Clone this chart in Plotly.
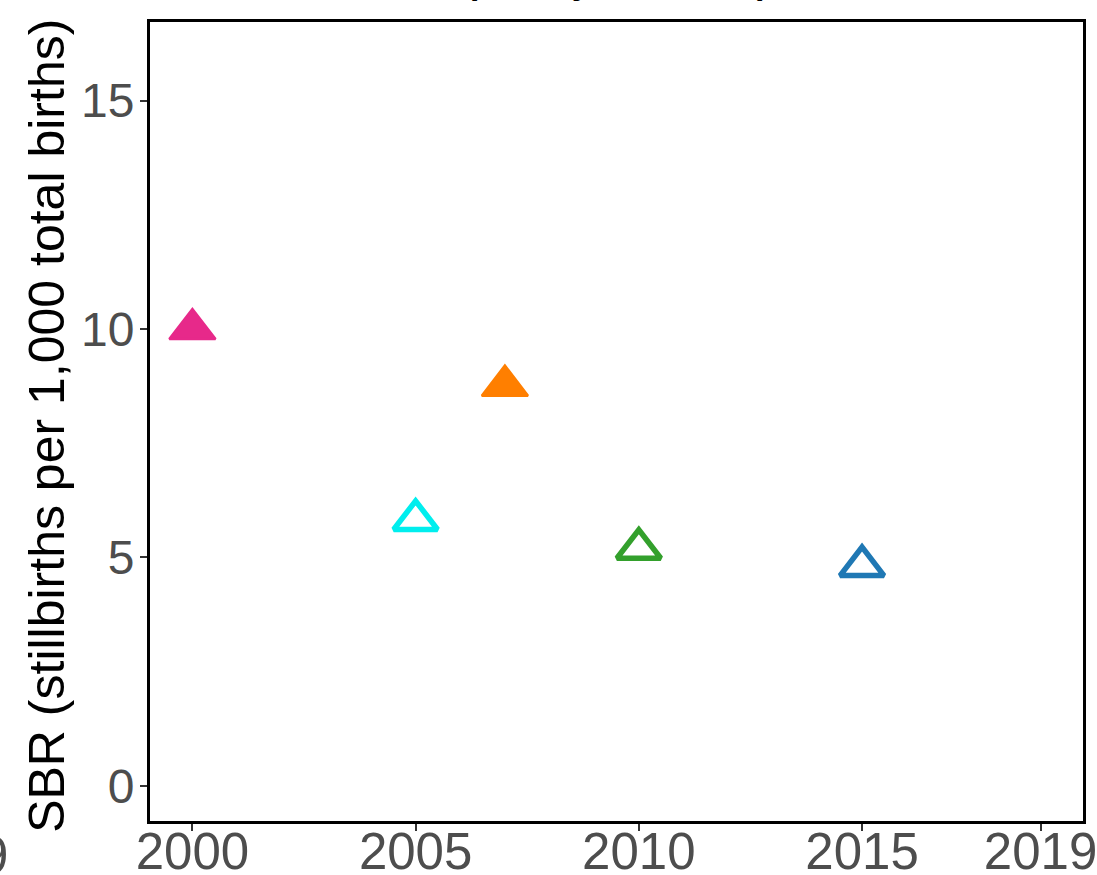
import plotly.graph_objects as go

# values
years = [2000, 2005, 2007, 2010, 2015]
sbr = [10.0, 5.82, 8.76, 5.19, 4.81]
colors = ["#E7298A", "#00EEEE", "#FF7F00", "#33A02C", "#1F78B4"]
filled = [True, False, True, False, False]

x_ticks = [2000, 2005, 2010, 2015, 2019]
y_ticks = [0, 5, 10, 15]

symbols = ["triangle-up" if f else "triangle-up-open" for f in filled]
sizes = [40 if f else 38 for f in filled]
widths = [2.5 if f else 5.5 for f in filled]

fig = go.Figure(
    go.Scatter(
        x=years,
        y=sbr,
        mode="markers",
        marker=dict(
            symbol=symbols,
            size=sizes,
            color=colors,
            opacity=1,
            line=dict(color=colors, width=widths),
        ),
        showlegend=False,
    )
)

font_family = "Liberation Sans, Arial"
x_font = dict(family=font_family, size=51, color="#4D4D4D")
y_font = dict(family=font_family, size=48, color="#4D4D4D")

common = dict(
    ticks="outside",
    ticklen=7,
    tickwidth=2,
    tickcolor="#333333",
    showgrid=False,
    zeroline=False,
    showline=True,
    linecolor="black",
    linewidth=3,
    mirror=True,
    automargin=False,
    ticklabeloverflow="allow",
)
fig.update_xaxes(range=[1999.05, 2019.95], tickvals=x_ticks, tickfont=x_font,
                 ticklabelstandoff=-23, **common)
fig.update_yaxes(range=[-0.77, 16.72], tickvals=y_ticks, tickfont=y_font,
                 ticklabelstandoff=-4, **common)

# y axis title
fig.add_annotation(
    text="SBR (stillbirths per 1,000 total births)",
    xref="paper", yref="paper", x=-0.11, y=0.495,
    xanchor="center", yanchor="middle", textangle=-90,
    showarrow=False,
    font=dict(family=font_family, size=50, color="black"),
)
# cut-off title of the panel and a neighbouring panel's tick label
fig.add_annotation(
    text="<b>(Survey estimates)</b>",
    xref="paper", yref="paper", x=0.5, y=1,
    xanchor="center", yanchor="bottom", yshift=19,
    showarrow=False,
    font=dict(family=font_family, size=34, color="black"),
)
fig.add_annotation(
    text="2019",
    xref="paper", yref="paper", x=-0.15, y=0,
    xanchor="right", yanchor="middle", yshift=-34,
    showarrow=False,
    font=x_font,
)

fig.update_layout(
    width=1097,
    height=875,
    autosize=False,
    margin=dict(l=150, r=14, t=22, b=54),
    plot_bgcolor="white",
    paper_bgcolor="white",
)

fig.write_html(
    "out.html",
    config={"displayModeBar": False},
    post_script="document.body.style.margin = '0';",
)
